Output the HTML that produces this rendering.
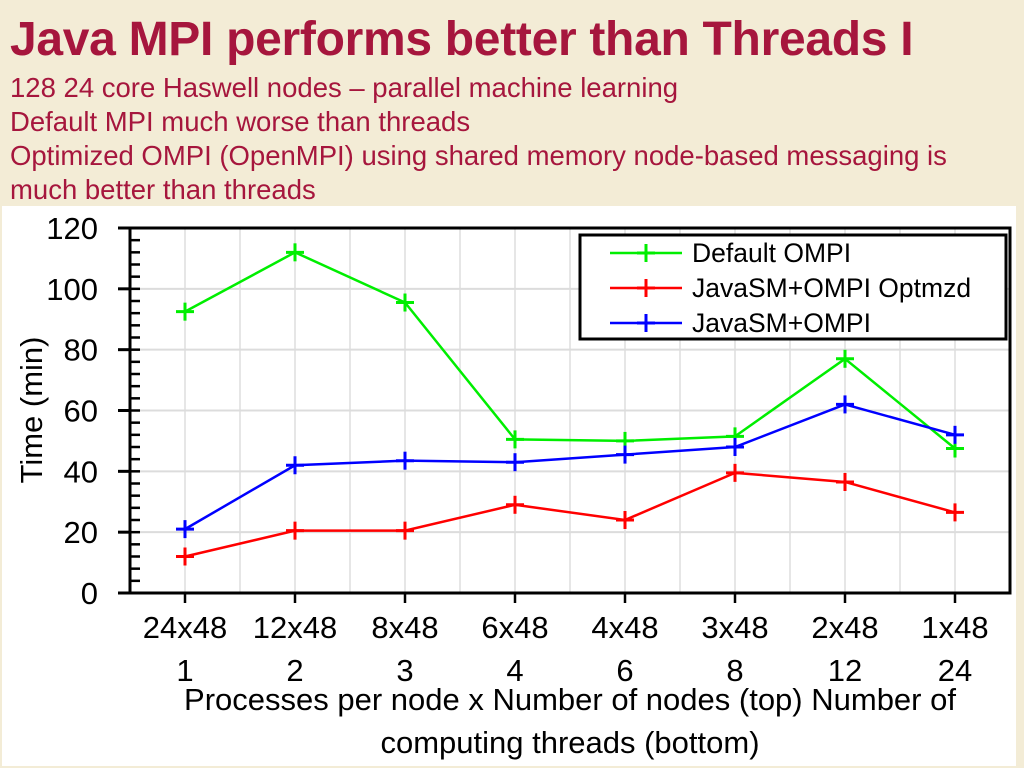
<!DOCTYPE html>
<html><head><meta charset="utf-8"><style>
body{margin:0;width:1024px;height:768px;overflow:hidden;background:#f3ecd6;font-family:"Liberation Sans",sans-serif;position:relative}
#title{position:absolute;left:10px;top:14px;font-size:48px;font-weight:bold;color:#a6163d;margin:0;letter-spacing:-0.3px;line-height:1.1}
.sub{position:absolute;left:10px;font-size:27.5px;color:#a6163d;line-height:1}
#chart{position:absolute;left:0;top:0}
</style></head><body>
<h1 id="title">Java MPI performs better than Threads I</h1>
<div class="sub" style="top:74px">128 24 core Haswell nodes – parallel machine learning</div>
<div class="sub" style="top:108px">Default MPI much worse than threads</div>
<div class="sub" style="top:142px">Optimized OMPI (OpenMPI) using shared memory node-based messaging is</div>
<div class="sub" style="top:176px">much better than threads</div>
<svg id="chart" width="1024" height="768"></svg>
<script>
const categoriesTop=["24x48","12x48","8x48","6x48","4x48","3x48","2x48","1x48"];
const categoriesBottom=["1","2","3","4","6","8","12","24"];
const defaultOmpi=[92.5,112,95.5,50.5,50,51.5,77,47.5];
const optimized=[12,20.5,20.5,29,24,39.5,36.5,26.5];
const javaSM=[21,42,43.5,43,45.5,48,62,52];
const yTicks=[0,20,40,60,80,100,120];
const seriesNames=["Default OMPI","JavaSM+OMPI Optmzd","JavaSM+OMPI"];
const NS="http://www.w3.org/2000/svg",svg=document.getElementById('chart');
const L=130,R=1010,T=228,B=593,step=110,x0=185;
const xs=i=>x0+i*step, ys=v=>B-(v/120)*(B-T);
function mk(t,a,p){const e=document.createElementNS(NS,t);for(const k in a)e.setAttribute(k,a[k]);(p||svg).appendChild(e);return e;}
const F='"Liberation Sans",sans-serif';
let bg=mk('rect',{x:2,y:206,width:1014,height:560,fill:'#fff'});


for(let i=0;i<16;i++){const gx=x0+i*step/2;if(gx>=R)break;let g=mk('line',{x1:gx,x2:gx,y1:T,y2:B,stroke:'#e6e6e6','stroke-width':2});

}
yTicks.forEach(v=>{let g=mk('line',{x1:L,x2:R,y1:ys(v),y2:ys(v),stroke:'#dcdcdc','stroke-width':2});


let t=mk('text',{x:98,y:ys(v)+11,'font-size':31,'text-anchor':'end','font-family':F});t.textContent=v;


mk('line',{x1:L-12,x2:L,y1:ys(v),y2:ys(v),stroke:'#000','stroke-width':3});});
for(let v=0;v<120;v+=4){mk('line',{x1:L,x2:L+10,y1:ys(v),y2:ys(v),stroke:'#000','stroke-width':2.5});}
let ax=mk('rect',{x:L,y:T,width:R-L,height:B-T,fill:'none',stroke:'#000','stroke-width':3});


categoriesTop.forEach((c,i)=>{mk('line',{x1:xs(i),x2:xs(i),y1:B,y2:B+10,stroke:'#000','stroke-width':2.5});
let t=mk('text',{x:xs(i),y:638,'font-size':31,'text-anchor':'middle','font-family':F});t.textContent=c;


let b=mk('text',{x:xs(i),y:681,'font-size':31,'text-anchor':'middle','font-family':F});b.textContent=categoriesBottom[i];

});
let xt=mk('text',{x:570,y:710,'font-size':31,'text-anchor':'middle','font-family':F});xt.textContent='Processes per node x Number of nodes (top) Number of';


let xt2=mk('text',{x:570,y:753,'font-size':31,'text-anchor':'middle','font-family':F});xt2.textContent='computing threads (bottom)';


let yt=mk('text',{x:0,y:0,'font-size':31,'text-anchor':'middle','font-family':F,transform:'translate(42,410) rotate(-90)'});yt.textContent='Time (min)';


const series=[[defaultOmpi,'#00ee00'],[optimized,'#ff0000'],[javaSM,'#0000ff']];
function cross(x,y,c,p){mk('line',{x1:x-9,x2:x+9,y1:y,y2:y,stroke:c,'stroke-width':3},p);mk('line',{x1:x,x2:x,y1:y-9,y2:y+9,stroke:c,'stroke-width':3},p);}
series.forEach(([d,c],si)=>{const g=mk('g',{});


mk('polyline',{points:d.map((v,i)=>xs(i)+','+ys(v)).join(' '),fill:'none',stroke:c,'stroke-width':2.5},g);
d.forEach((v,i)=>cross(xs(i),ys(v),c,g));});
const lg=mk('g',{});


mk('rect',{x:580,y:235,width:426,height:104,fill:'#fff',stroke:'#000','stroke-width':3},lg);
series.forEach(([d,c],i)=>{const y=253+i*35;const e=mk('g',{},lg);


mk('line',{x1:610,x2:682,y1:y,y2:y,stroke:c,'stroke-width':2.5},e);cross(646,y,c,e);
let t=mk('text',{x:692,y:y+9,'font-size':26.5,'font-family':F},e);t.textContent=seriesNames[i];});
</script>
</body></html>
